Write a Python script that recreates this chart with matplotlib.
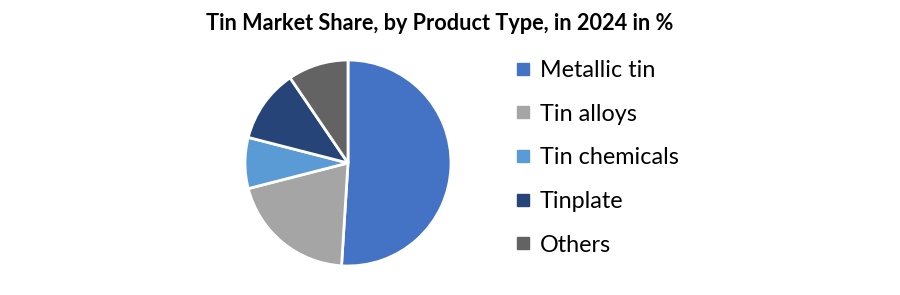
import matplotlib.pyplot as plt
from matplotlib.lines import Line2D

labels = ["Metallic tin", "Tin alloys", "Tin chemicals", "Tinplate", "Others"]
shares = [51.0, 20.0, 8.0, 11.5, 9.5]
colors = ["#4472C4", "#A5A5A5", "#5B9BD5", "#264478", "#636363"]

plt.rcParams['font.family'] = ['Lato', 'DejaVu Sans']

fig = plt.figure(figsize=(9, 2.95), dpi=100)
fig.patch.set_facecolor("white")

# pie centre about (348,163) px, radius ~103 px
cx, cy, r = 348, 163, 103
ax = fig.add_axes([(cx - r) / 900, (295 - cy - r) / 295, 2 * r / 900, 2 * r / 295])
ax.pie(shares, colors=colors, startangle=90, counterclock=False,
       wedgeprops=dict(edgecolor="white", linewidth=2), radius=1.0)
ax.set_xlim(-1.0, 1.0)
ax.set_ylim(-1.0, 1.0)
ax.set_aspect("equal")
ax.axis("off")

fig.text(440 / 900, 1 - 23 / 295, "Tin Market Share, by Product Type, in 2024 in %",
         ha="center", va="center", fontsize=15.6, fontweight="bold", color="#000000")

handles = [Line2D([0], [0], marker="s", linestyle="none", markersize=8,
                  markerfacecolor=c, markeredgecolor=c) for c in colors]
fig.legend(handles, labels, loc="upper left", bbox_to_anchor=(514 / 900, 1 - 60 / 295),
           frameon=False, fontsize=16.8, labelspacing=0.97, handlelength=0.8,
           handletextpad=0.3, borderaxespad=0, borderpad=0)

fig.savefig("out.png", dpi=100, facecolor="white")
